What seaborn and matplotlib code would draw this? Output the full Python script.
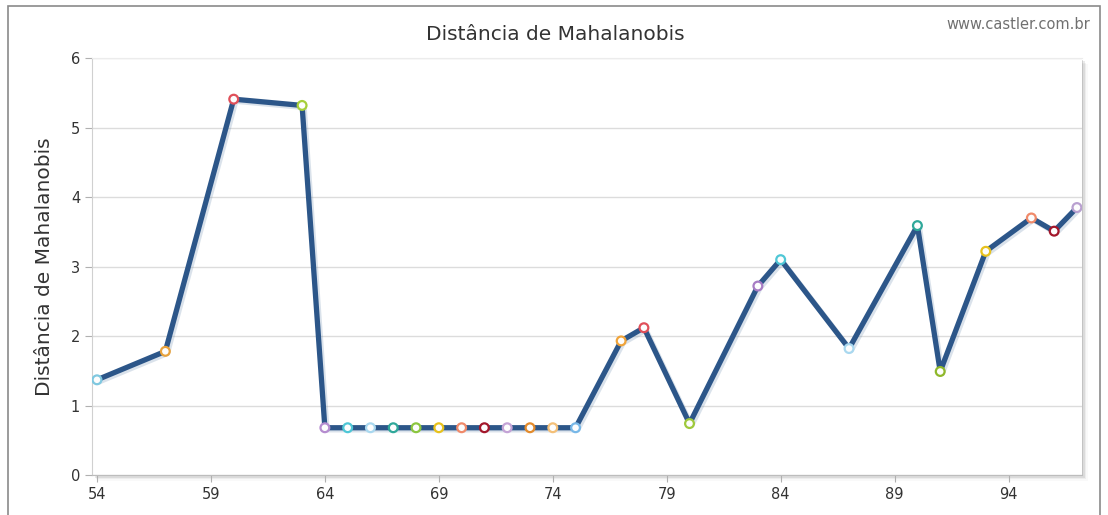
# Distância de Mahalanobis - line chart recreation
import matplotlib
matplotlib.use("Agg")
import matplotlib.pyplot as plt
import matplotlib.patheffects as pe
from matplotlib.patches import Rectangle
import pandas as pd
import seaborn as sns

# Data
obs = [54, 57, 60, 63, 64, 65, 66, 67, 68, 69, 70, 71, 72, 73, 74, 75,
       77, 78, 80, 83, 84, 87, 90, 91, 93, 95, 96, 97]
distance = [1.37, 1.78, 5.41, 5.32, 0.68, 0.68, 0.68, 0.68, 0.68, 0.68, 0.68,
            0.68, 0.68, 0.68, 0.68, 0.68, 1.93, 2.12, 0.74, 2.72, 3.10, 1.82,
            3.59, 1.49, 3.22, 3.70, 3.51, 3.85]
x_ticks = [54, 59, 64, 69, 74, 79, 84, 89, 94]
y_ticks = [0, 1, 2, 3, 4, 5, 6]

# marker ring colours, one per point
marker_colors = ["#7fc8e0", "#e8a23c", "#e0505a", "#a6cf3a", "#b58ccf", "#4fc7d6",
                 "#a9d8ef", "#2fa89a", "#8cc63f", "#e8c21c", "#f08a6a", "#a3172b",
                 "#c4a3d6", "#e38b2c", "#f4c078", "#78b8e8", "#f0a43a", "#e0505a",
                 "#9fc93c", "#a77cc4", "#4fc7d6", "#a9d8ef", "#2fa89a", "#8fb82a",
                 "#e8c21c", "#f08a6a", "#a3172b", "#b9a0d0"]

df = pd.DataFrame({"obs": obs, "distance": distance, "color": marker_colors})

sns.set_style("white")
plt.rcParams["font.family"] = ["DejaVu Sans"]

fig = plt.figure(figsize=(11.08, 5.15), dpi=100)
ax = fig.add_axes([0.083, 0.0777, 0.8935, 0.8093])

# outer frame
fig.patches.append(Rectangle((0.007, -0.05), 0.986, 1.038, transform=fig.transFigure,
                             fill=False, edgecolor="#8a8a8a", linewidth=1.2))
# plot area shadow
for i, a in enumerate([0.22, 0.14, 0.08, 0.04]):
    off = (i + 1) * 1.5
    fig.patches.append(Rectangle((0.083 + off / 1108, 0.0777 - off / 515),
                                 0.8935, 0.8093, transform=fig.transFigure,
                                 facecolor="#707070", alpha=a, edgecolor="none",
                                 zorder=-1))
ax.set_facecolor("white")

sns.lineplot(data=df, x="obs", y="distance", ax=ax, color="#2c5689", linewidth=3.8,
             zorder=3,
             path_effects=[pe.SimpleLineShadow(offset=(1.5, -1.5), alpha=0.25,
                                               shadow_color="#6f8fb0"),
                           pe.Normal()])
sns.scatterplot(data=df, x="obs", y="distance", ax=ax, hue="color",
                palette=dict(zip(marker_colors, marker_colors)), legend=False,
                s=40, facecolor="white", linewidth=1.6, zorder=4)
# ring style: white center with coloured edge
coll = ax.collections[-1]
coll.set_edgecolors(marker_colors)
coll.set_facecolors(["#fdfdfd"] * len(marker_colors))

ax.set_xlim(53.78, 97.22)
ax.set_ylim(0, 6)
ax.set_xticks(x_ticks)
ax.set_yticks(y_ticks)
ax.yaxis.grid(True, color="#dcdcdc", linewidth=1)
ax.xaxis.grid(False)
ax.tick_params(axis="both", which="both", length=5, width=0.8, color="#b0b0b0",
               labelsize=10.5, labelcolor="#333333", direction="out",
               left=True, bottom=True)
ax.spines["right"].set_visible(False)
ax.spines["top"].set_color("#ececec")
ax.spines["left"].set_color("#d0d0d0")
ax.spines["bottom"].set_color("#bdbdbd")

ax.set_xlabel("")
ax.set_ylabel("Distância de Mahalanobis", fontsize=14.5, color="#333333", labelpad=12)
fig.text(0.501, 0.933, "Distância de Mahalanobis", ha="center", va="center",
         fontsize=14.5, color="#333333")
fig.text(0.984, 0.952, "www.castler.com.br", ha="right", va="center",
         fontsize=10.5, color="#707070")

fig.savefig("out.png", dpi=100)
